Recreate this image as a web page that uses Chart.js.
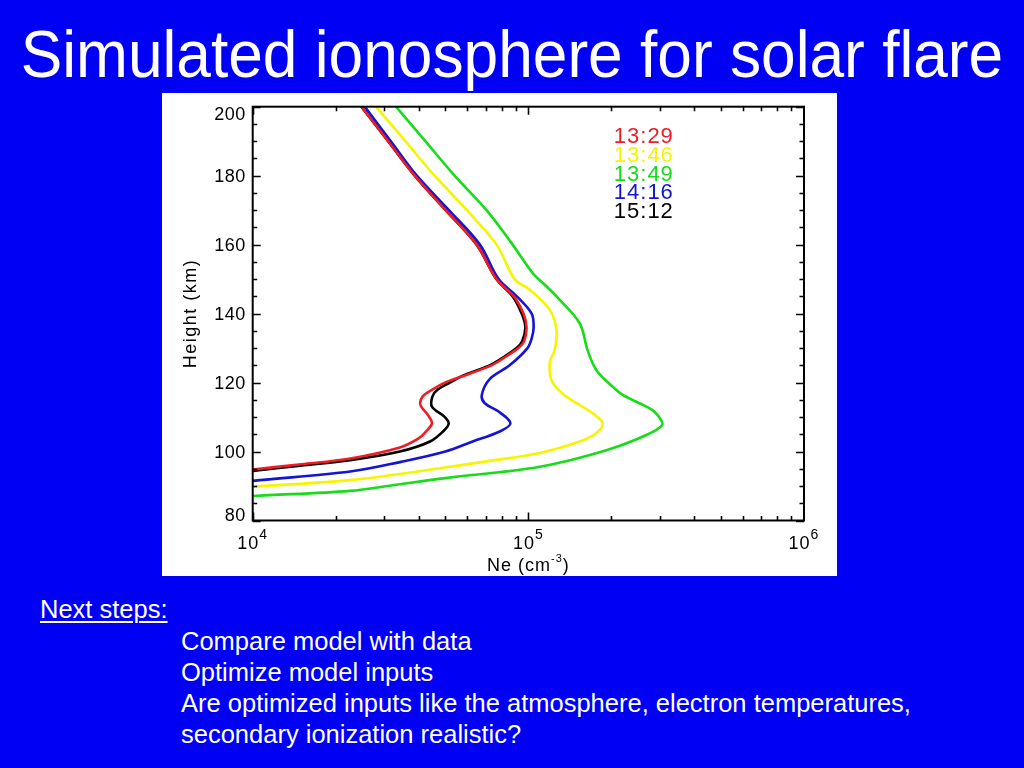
<!DOCTYPE html>
<html>
<head>
<meta charset="utf-8">
<script src="https://cdn.jsdelivr.net/npm/chart.js@4.4.1/dist/chart.umd.min.js"></script>
<style>
  html, body { margin: 0; padding: 0; }
  body { width: 1024px; height: 768px; background: #0000f5; position: relative; overflow: hidden; font-family: "Liberation Sans", Arial, sans-serif; color: #fff; }
  #title { position: absolute; left: -200px; top: 21px; width: 1424px; text-align: center; font-size: 66px; line-height: 66px; white-space: nowrap; transform: scaleX(0.943); transform-origin: 711.5px 0; }
  #panel { position: absolute; left: 162px; top: 93px; width: 675px; height: 483px; background: #fff; }
  .note { position: absolute; font-size: 25.5px; line-height: 25px; white-space: nowrap; }
  #next { left: 40px; top: 597px; text-decoration: underline; text-underline-offset: 3px; text-decoration-thickness: 1.5px; }
</style>
</head>
<body>
<div id="title">Simulated ionosphere for solar flare</div>
<div id="panel"><canvas id="c" width="675" height="483"></canvas></div>
<div class="note" id="next">Next steps:</div>
<div class="note" style="left:181px;top:629px">Compare model with data</div>
<div class="note" style="left:181px;top:660px">Optimize model inputs</div>
<div class="note" style="left:181px;top:691px">Are optimized inputs like the atmosphere, electron temperatures,</div>
<div class="note" style="left:181px;top:722px">secondary ionization realistic?</div>
<script>
// ---- data (height in km, electron density Ne in cm^-3) ----
const seriesLabels = ["13:29", "13:46", "13:49", "14:16", "15:12"];
const seriesColors = ["#ee1c24", "#f5f500", "#18dc18", "#1414d2", "#000000"];

const h1329  = [200,190,180,170,160,150,145,140,136,132,130,127,125,122,120,118,116,113.5,110.6,108.2,105.8,103.8,101.2,98,96.3,94.8,94.4];
const ne1329 = [24800,31000,38700,50100,64900,76600,88500,96000,98500,96500,92000,81000,73500,58500,49800,45000,41400,40600,43200,44700,42500,40000,34200,22600,15000,10000,9200];

const h1346  = [200,190,180,170,160,150,147,141,135,129.4,126,120.7,116.4,111.1,108.2,105.3,102.9,99.6,97.3,95.3,91.7,89.8,89.4];
const ne1346 = [28000,35800,45700,59800,76700,89100,101000,119700,126600,124500,119700,121300,135000,171000,186000,176000,153500,110000,72400,49000,22600,10000,9200];

const h1349  = [200,190,180,170,160,151.7,148,145,137.2,129.4,123.6,118.8,116.4,114,112,110,107.7,104.8,100.4,95.6,92.3,90.3,88.6,87.1,86.8];
const ne1349 = [33100,42300,54000,70500,87700,103800,116000,126500,153500,164000,176600,202300,220000,253000,282000,298000,306000,268000,191800,110000,50000,32600,22600,10000,9200];

const h1416  = [200,190,180,170,160,150,145,140,136,133,130,125,121,116.4,114,111.6,108.2,105.8,102.9,100,97,94.2,91.5,91];
const ne1416 = [25500,31700,39400,51500,66700,78000,90800,102800,104500,103000,99300,85500,72400,67800,69500,78000,86100,78700,62800,50000,34500,22600,10000,9200];

const h1512  = [200,190,180,170,160,150,145,140,136,132,130,127,125,122,120,118,116,113,110,108,105.8,102.9,100,97.5,95.9,94.4,94];
const ne1512 = [24800,31000,38700,50100,64900,76600,87700,94600,97500,95000,90600,80000,72400,57800,51900,46900,44900,44700,49800,51400,49000,44000,34200,22600,14900,10000,9200];

const yTicks = [80, 100, 120, 140, 160, 180, 200];
const xDecades = [4, 5, 6];

const heights = [h1329, h1346, h1349, h1416, h1512];
const dens = [ne1329, ne1346, ne1349, ne1416, ne1512];

const datasets = seriesLabels.map((lab, i) => ({
  label: lab,
  data: heights[i].map((h, j) => ({ x: dens[i][j], y: h })),
  borderColor: seriesColors[i],
  backgroundColor: seriesColors[i],
  borderWidth: 2.6,
  pointRadius: 0,
  showLine: true,
  tension: 0.35,
  fill: false
}));

const FONT = '"Liberation Sans", Arial, sans-serif';

const decor = {
  id: 'decor',
  afterDraw(chart) {
    const { ctx, chartArea: { left, right, top, bottom }, scales: { x, y } } = chart;
    ctx.save();
    ctx.strokeStyle = '#000';
    ctx.lineWidth = 2;
    ctx.strokeRect(left, top, right - left, bottom - top);
    ctx.lineWidth = 1.6;
    ctx.beginPath();
    for (let v = 80; v <= 200; v += 5) {
      const py = Math.round(y.getPixelForValue(v)) + 0.5;
      const len = (v % 20 === 0) ? 8 : 4.5;
      ctx.moveTo(left, py); ctx.lineTo(left + len, py);
      ctx.moveTo(right, py); ctx.lineTo(right - len, py);
    }
    for (let k = 4; k <= 5; k++) {
      for (let m = 1; m <= 9; m++) {
        const px = Math.round(x.getPixelForValue(m * Math.pow(10, k))) + 0.5;
        const len = (m === 1) ? 8 : 4.5;
        ctx.moveTo(px, bottom); ctx.lineTo(px, bottom - len);
        ctx.moveTo(px, top); ctx.lineTo(px, top + len);
      }
    }
    ctx.stroke();

    ctx.fillStyle = '#000';

    // y tick labels (kept inside the axis range at the ends)
    ctx.font = '18px ' + FONT;
    ctx.letterSpacing = '0.5px';
    ctx.textAlign = 'right';
    ctx.textBaseline = 'middle';
    yTicks.forEach(v => {
      let py = y.getPixelForValue(v);
      py = Math.min(Math.max(py, top + 7), bottom - 5.5);
      ctx.fillText(String(v), left - 7, py + 1);
    });

    // x tick labels 10^n
    ctx.textBaseline = 'alphabetic';
    xDecades.forEach(d => {
      const px = x.getPixelForValue(Math.pow(10, d));
      ctx.font = '18px ' + FONT;
      ctx.letterSpacing = '1px';
      const w1 = ctx.measureText('10').width;
      ctx.font = '14px ' + FONT;
      const w2 = ctx.measureText(String(d)).width;
      const x0 = px - (w1 + w2) / 2;
      ctx.font = '18px ' + FONT;
      ctx.textAlign = 'left';
      ctx.fillText('10', x0, bottom + 28);
      ctx.font = '14px ' + FONT;
      ctx.fillText(String(d), x0 + w1, bottom + 18);
    });

    // x axis title: Ne (cm^-3)
    ctx.letterSpacing = '1px';
    ctx.font = '18px ' + FONT;
    const a = 'Ne (cm', c = ')';
    const wa = ctx.measureText(a).width, wc = ctx.measureText(c).width;
    ctx.font = '11px ' + FONT;
    const sup = '-3';
    const wb = ctx.measureText(sup).width;
    let xs = (left + right) / 2 - (wa + wb + wc) / 2;
    const by = bottom + 50;
    ctx.font = '18px ' + FONT;
    ctx.fillText(a, xs, by);
    ctx.font = '11px ' + FONT;
    ctx.fillText(sup, xs + wa, by - 9);
    ctx.font = '18px ' + FONT;
    ctx.fillText(c, xs + wa + wb, by);

    // y axis title
    ctx.save();
    ctx.translate(left - 57, (top + bottom) / 2);
    ctx.rotate(-Math.PI / 2);
    ctx.textAlign = 'center';
    ctx.font = '18px ' + FONT;
    ctx.letterSpacing = '1.5px';
    ctx.fillText('Height (km)', 0, 0);
    ctx.restore();

    // legend (coloured labels)
    ctx.font = '22px ' + FONT;
    ctx.letterSpacing = '1px';
    ctx.textAlign = 'left';
    const lx = left + 0.655 * (right - left);
    seriesLabels.forEach((lab, i) => {
      ctx.fillStyle = seriesColors[i];
      ctx.fillText(lab, lx, top + 36 + i * 18.9);
    });
    ctx.restore();
  }
};

new Chart(document.getElementById('c'), {
  type: 'scatter',
  data: { datasets },
  options: {
    responsive: false,
    animation: false,
    devicePixelRatio: 1,
    layout: { padding: { left: 0, right: 33, top: 13.7, bottom: 0 } },
    plugins: { legend: { display: false }, tooltip: { enabled: false } },
    scales: {
      x: {
        type: 'logarithmic',
        min: 1e4, max: 1e6,
        grid: { display: false },
        border: { display: false },
        ticks: { display: false },
        afterFit(s) { s.height = 55.5; s.paddingLeft = 0; s.paddingRight = 0; }
      },
      y: {
        type: 'linear',
        min: 80, max: 200,
        grid: { display: false, drawTicks: false },
        border: { display: false },
        afterBuildTicks(s) { s.ticks = yTicks.map(v => ({ value: v })); },
        ticks: { display: false },
        afterFit(s) { s.width = 90.7; s.paddingTop = 0; s.paddingBottom = 0; }
      }
    }
  },
  plugins: [decor]
});
</script>
</body>
</html>
